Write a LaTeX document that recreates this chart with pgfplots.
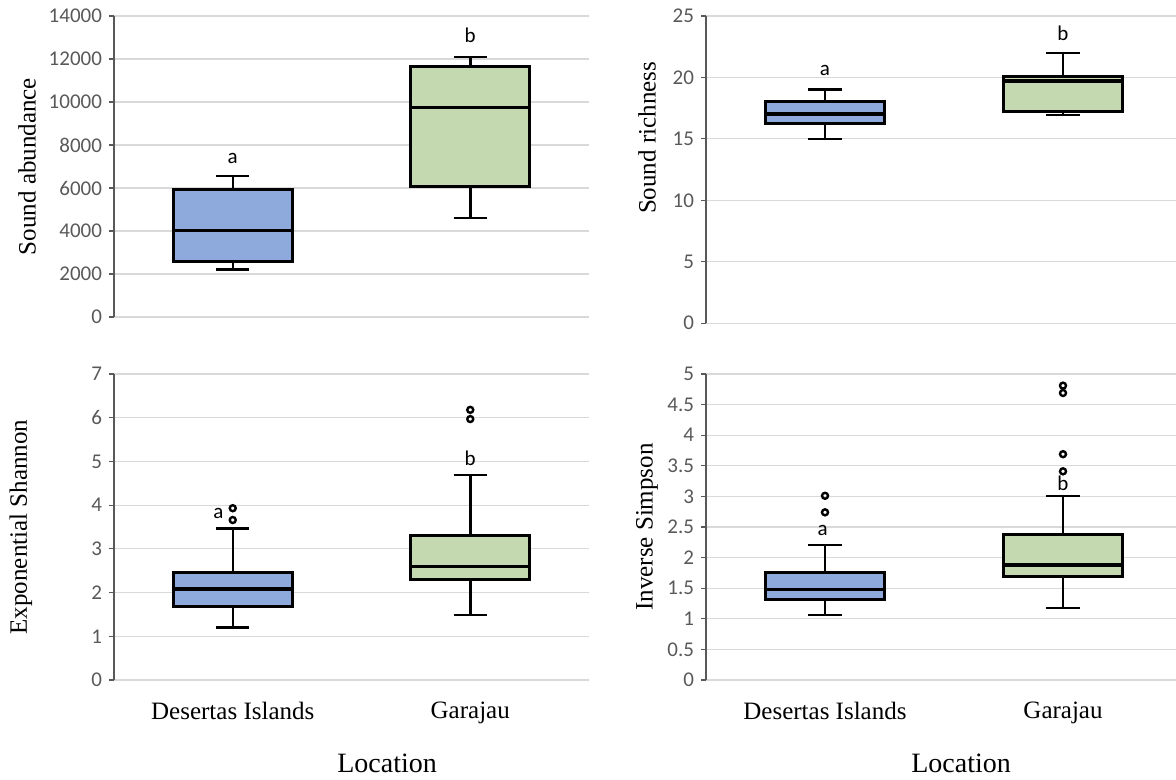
\documentclass[border=0pt]{standalone}
\usepackage{fontspec}
\setmainfont{Liberation Serif}
\newfontfamily\carlito{Carlito}
\usepackage{pgfplots}
\pgfplotsset{compat=1.18}
\usepgfplotslibrary{statistics}
\definecolor{boxblue}{RGB}{142,169,219}
\definecolor{boxgreen}{RGB}{197,217,176}
\definecolor{tickgray}{RGB}{89,89,89}
\definecolor{gridgray}{RGB}{217,217,217}
\tikzset{lett/.style={font=\carlito\fontsize{10.5}{12}\selectfont, text=black}}
\pgfplotsset{
  panel/.style={
    scale only axis, xmin=0.5, xmax=2.5, ymin=0,
    xtick={1,2}, xticklabels={},
    axis y line*=left, axis x line*=bottom,
    x axis line style={draw=none},
    y axis line style={draw=tickgray, line width=0.6pt},
    xtick style={draw=none},
    ytick style={draw=tickgray, line width=0.6pt},
    tick align=outside, major tick length=2.5pt,
    ymajorgrids, grid style={draw=gridgray, line width=0.6pt},
    /pgf/number format/assume math mode=true,
    /pgf/number format/1000 sep={},
    scaled y ticks=false,
    yticklabel style={font=\carlito\fontsize{10.5}{12}\selectfont, text=tickgray},
    xticklabel style={font=\fontsize{12.5}{14}\selectfont, text=black, yshift=-5pt},
    ylabel style={font=\fontsize{12.5}{15}\selectfont},
    xlabel style={font=\fontsize{14}{16}\selectfont},
    boxplot/draw direction=y,
    boxplot/box extend=0.5,
    boxplot/whisker extend=0.14,
    boxplot/every box/.style={draw=black, line width=1.5pt},
    boxplot/every whisker/.style={draw=black, line width=1.25pt},
    boxplot/every median/.style={draw=black, line width=1.7pt},
  },
  bxa/.style={draw=black, fill=boxblue, mark=o, mark size=1.5pt, mark options={draw=black, fill=none, line width=1.2pt}},
  bxb/.style={draw=black, fill=boxgreen, mark=o, mark size=1.5pt, mark options={draw=black, fill=none, line width=1.2pt}},
}
\begin{document}
\begin{tikzpicture}
\useasboundingbox (0,0) rectangle (588pt,-390pt);
% Top left
\begin{axis}[panel, at={(57pt,-158.5pt)}, anchor=south west, width=237.5pt, height=150.5pt,
  ymax=14000, ytick={0,2000,...,14000},
  ylabel={Sound abundance}, ylabel style={at={(axis description cs:-0.183,0.5)}, anchor=center}]
\addplot[bxa, boxplot prepared={lower whisker=2205, lower quartile=2591, median=4033, upper quartile=5926, upper whisker=6558, draw position=1}] coordinates {};
\addplot[bxb, boxplot prepared={lower whisker=4605, lower quartile=6079, median=9740, upper quartile=11660, upper whisker=12093, draw position=2}] coordinates {};
\node[lett] at (axis cs:1,7367) {a};
\node[lett] at (axis cs:2,13102) {b};
\end{axis}
% Top right
\begin{axis}[panel, at={(353pt,-161.6pt)}, anchor=south west, width=238pt, height=153.6pt,
  ymax=25, ytick={0,5,...,25},
  ylabel={Sound richness}, ylabel style={at={(axis description cs:-0.124,0.603)}, anchor=center}]
\addplot[bxa, boxplot prepared={lower whisker=15.01, lower quartile=16.26, median=17.02, upper quartile=18.02, upper whisker=19.02, draw position=1}] coordinates {};
\addplot[bxb, boxplot prepared={lower whisker=16.93, lower quartile=17.26, median=19.7, upper quartile=20.05, upper whisker=22.0, draw position=2}] coordinates {};
\node[lett] at (axis cs:1,20.6) {a};
\node[lett] at (axis cs:2,23.6) {b};
\end{axis}
% Bottom left
\begin{axis}[panel, at={(57pt,-340pt)}, anchor=south west, width=237.5pt, height=153pt,
  ymax=7, ytick={0,1,...,7},
  xticklabels={Desertas Islands, Garajau},
  xlabel={Location}, xlabel style={at={(axis description cs:0.575,0)}, anchor=center, yshift=-41.5pt},
  ylabel={Exponential Shannon}, ylabel style={at={(axis description cs:-0.196,0.5)}, anchor=center}]
\addplot[bxa, boxplot prepared={lower whisker=1.20, lower quartile=1.69, median=2.08, upper quartile=2.46, upper whisker=3.47, draw position=1}] table[row sep=\\, y index=0] {data\\ 3.66\\ 3.93\\};
\addplot[bxb, boxplot prepared={lower whisker=1.49, lower quartile=2.29, median=2.59, upper quartile=3.30, upper whisker=4.69, draw position=2}] table[row sep=\\, y index=0] {data\\ 5.97\\ 6.18\\};
\node[lett] at (axis cs:0.94,3.82) {a};
\node[lett] at (axis cs:2,5.08) {b};
\end{axis}
% Bottom right
\begin{axis}[panel, at={(353pt,-340pt)}, anchor=south west, width=238pt, height=153pt,
  ymax=5, ytick={0,0.5,...,5},
  xticklabels={Desertas Islands, Garajau},
  xlabel={Location}, xlabel style={at={(axis description cs:0.536,0)}, anchor=center, yshift=-41.5pt},
  ylabel={Inverse Simpson}, ylabel style={at={(axis description cs:-0.124,0.5)}, anchor=center}]
\addplot[bxa, boxplot prepared={lower whisker=1.06, lower quartile=1.32, median=1.48, upper quartile=1.76, upper whisker=2.21, draw position=1}] table[row sep=\\, y index=0] {data\\ 2.74\\ 3.01\\};
\addplot[bxb, boxplot prepared={lower whisker=1.18, lower quartile=1.69, median=1.88, upper quartile=2.37, upper whisker=3.01, draw position=2}] table[row sep=\\, y index=0] {data\\ 3.41\\ 3.69\\ 4.69\\ 4.81\\};
\node[lett] at (axis cs:0.99,2.45) {a};
\node[lett] at (axis cs:2,3.21) {b};
\end{axis}
\end{tikzpicture}
\end{document}
